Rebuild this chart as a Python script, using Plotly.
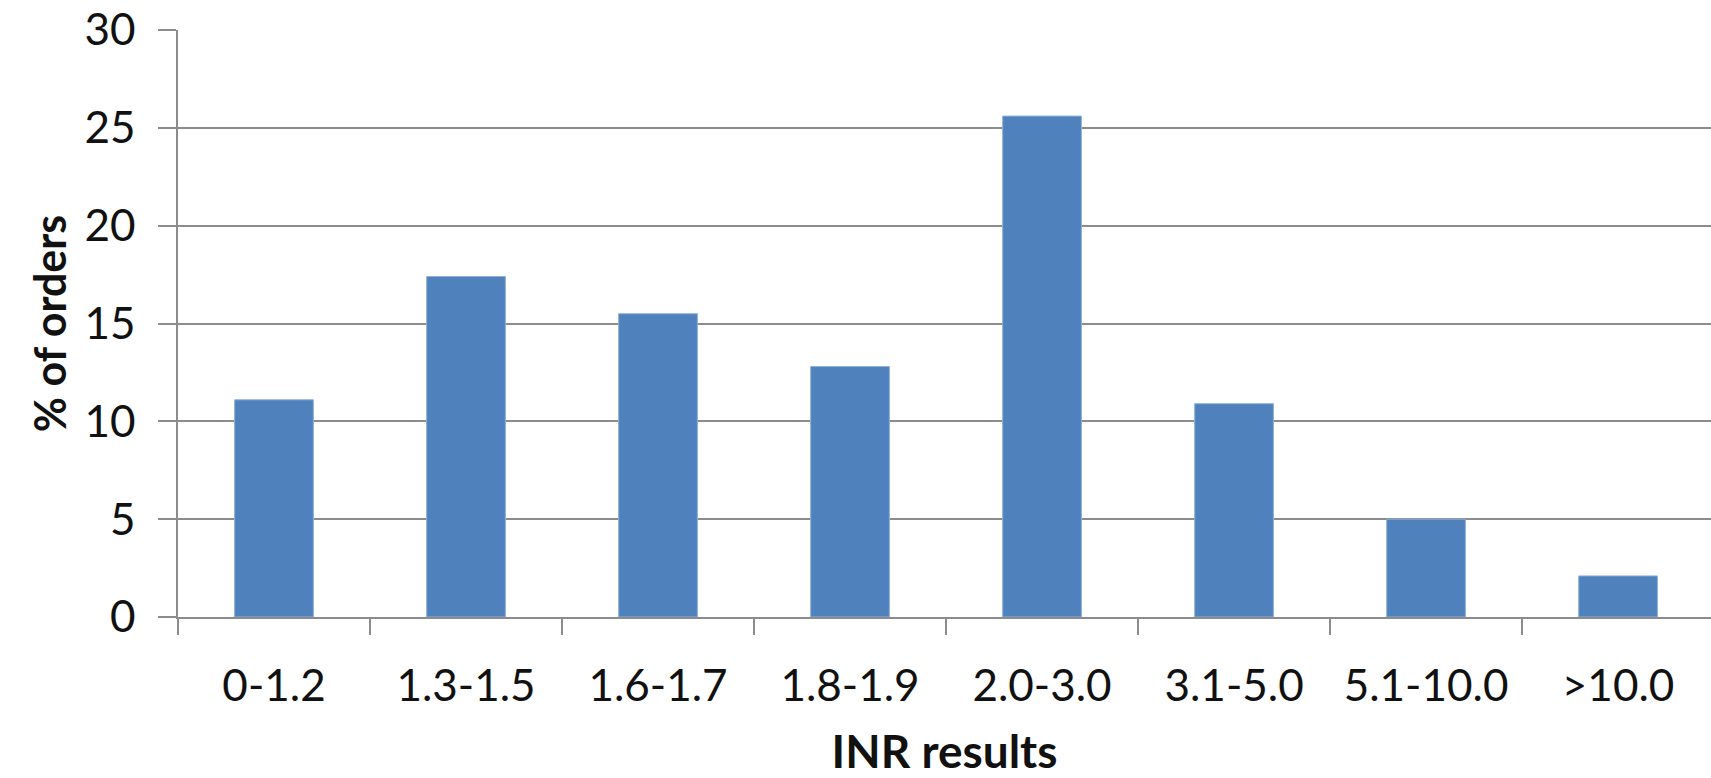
import plotly.graph_objects as go

# INR result bands and share of orders in each band (%)
categories = ["0-1.2", "1.3-1.5", "1.6-1.7", "1.8-1.9", "2.0-3.0", "3.1-5.0", "5.1-10.0", ">10.0"]
pct_orders = [11.1, 17.4, 15.5, 12.8, 25.6, 10.9, 5.0, 2.1]
y_ticks = [0, 5, 10, 15, 20, 25, 30]

FONT = "Lato"
AXIS_GREY = "#8c8c8c"
TEXT = "#111111"

fig = go.Figure(
    go.Bar(
        x=categories,
        y=pct_orders,
        marker=dict(color="#4F81BD", line=dict(color="#8fb0da", width=1)),
        hoverinfo="x+y",
    )
)

fig.update_layout(
    width=1711,
    height=778,
    margin=dict(l=178, r=0, t=30, b=161),
    paper_bgcolor="white",
    plot_bgcolor="white",
    bargap=0.59,
    showlegend=False,
    font=dict(family=FONT, color=TEXT),
)

fig.update_xaxes(
    type="category",
    range=[-0.5, 7.484],
    showline=True,
    linecolor=AXIS_GREY,
    linewidth=1.5,
    ticks="outside",
    tickson="boundaries",
    ticklen=16,
    tickwidth=1.5,
    tickcolor=AXIS_GREY,
    tickfont=dict(size=44, family=FONT, color=TEXT),
    ticklabelstandoff=29,
    showgrid=False,
    title=dict(
        text="<b>INR results</b>",
        font=dict(size=46, family=FONT, color=TEXT),
        standoff=33,
    ),
)

fig.update_yaxes(
    range=[0, 30],
    tickvals=y_ticks,
    showline=True,
    linecolor=AXIS_GREY,
    linewidth=1.5,
    ticks="outside",
    ticklen=18,
    tickwidth=1.5,
    tickcolor=AXIS_GREY,
    tickfont=dict(size=44, family=FONT, color=TEXT),
    ticklabelstandoff=14,
    showgrid=True,
    gridcolor=AXIS_GREY,
    gridwidth=1.5,
    zeroline=False,
    title=dict(
        text="<b>% of orders</b>",
        font=dict(size=43, family=FONT, color=TEXT),
        standoff=4,
    ),
)

fig.write_html("out.html")
